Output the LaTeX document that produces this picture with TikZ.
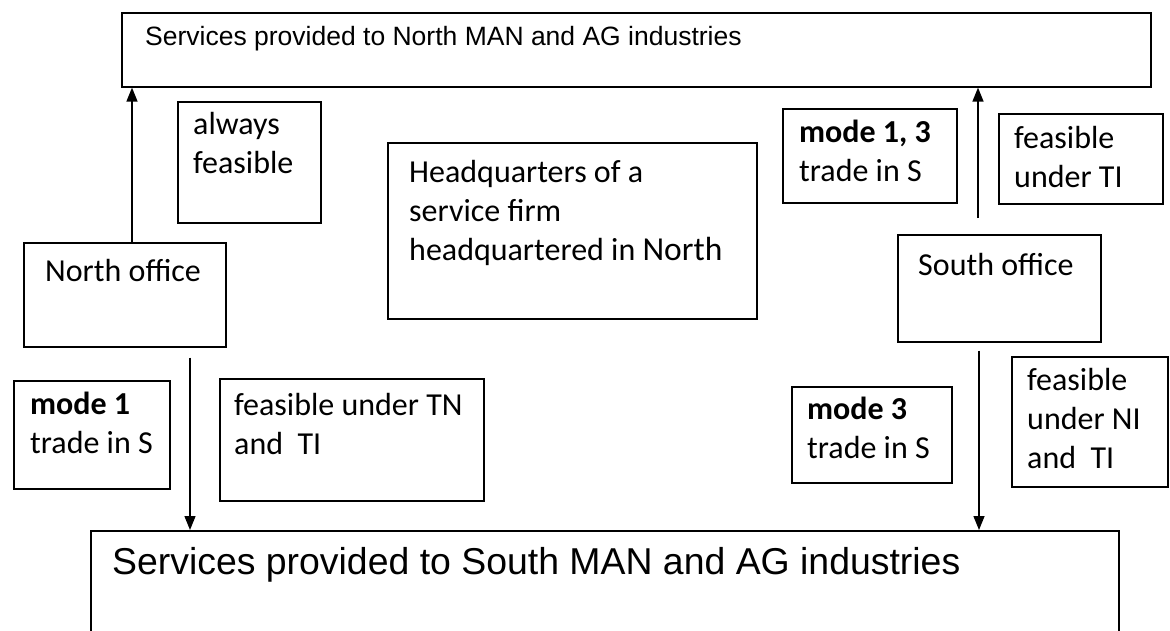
\documentclass[tikz,border=0pt]{standalone}
\usepackage{fontspec}
\usetikzlibrary{arrows.meta}
\newfontfamily\calfont{Carlito}
\newfontfamily\arialfont{Liberation Sans}
\begin{document}
\begin{tikzpicture}[x=1pt,y=-1pt,
  box/.style={draw, line width=1.6pt, inner sep=0pt, anchor=north west},
  cal/.style={font=\calfont\fontsize{32}{39}\selectfont, inner sep=0pt, anchor=base west},
  arr/.style={line width=1.4pt, -{Triangle[width=11pt,length=14pt]}}]
\useasboundingbox (0,0) rectangle (1170,630);

% market boxes
\node[box, minimum width=1029pt, minimum height=74pt] (nbox) at (121,12) {};
\node[box, minimum width=1028pt, minimum height=140pt] (sbox) at (90,530) {};
\node[anchor=base west, inner sep=0pt, font=\arialfont\fontsize{26.5}{32}\selectfont]
  (nboxT) at ([xshift=24pt,yshift=-33pt]nbox.north west)
  {Services provided to North MAN and AG industries};
\node[anchor=base west, inner sep=0pt, font=\arialfont\fontsize{37.4}{44}\selectfont]
  (sboxT) at ([xshift=22pt,yshift=-44pt]sbox.north west)
  {Services provided to South MAN and AG industries};

% offices and headquarters
\node[box, minimum width=202pt, minimum height=104pt] (noff) at (23,242) {};
\node[cal] (noffT) at ([xshift=22pt,yshift=-39pt]noff.north west) {North office};
\node[box, minimum width=203pt, minimum height=107pt] (soff) at (897,234) {};
\node[cal] (soffT) at ([xshift=21pt,yshift=-41pt]soff.north west) {South office};
\node[box, minimum width=369pt, minimum height=176pt] (hq) at (387,142) {};
\node[cal] (hqT) at ([xshift=22pt,yshift=-40pt]hq.north west)
  {\vtop{\hbox{Headquarters of a}\hbox{service firm}%
   \hbox{headquartered in {\fontsize{33.5}{39}\selectfont North}}}};

% labels of the upward links
\node[box, minimum width=143pt, minimum height=121pt] (alw) at (177,101) {};
\node[cal] (alwT) at ([xshift=16pt,yshift=-33pt]alw.north west)
  {\vtop{\hbox{always}\hbox{feasible}}};
\node[box, minimum width=174pt, minimum height=94pt] (m13) at (782,108) {};
\node[cal] (m13T) at ([xshift=17pt,yshift=-34pt]m13.north west)
  {\vtop{\hbox{\textbf{mode 1, 3}}\hbox{trade in S}}};
\node[box, minimum width=164pt, minimum height=90pt] (fti) at (998,113) {};
\node[cal] (ftiT) at ([xshift=16pt,yshift=-35pt]fti.north west)
  {\vtop{\hbox{feasible}\hbox{under TI}}};

% labels of the downward links
\node[box, minimum width=156pt, minimum height=108pt] (m1) at (13,380) {};
\node[cal] (m1T) at ([xshift=17pt,yshift=-34pt]m1.north west)
  {\vtop{\hbox{\textbf{mode 1}}\hbox{trade in S}}};
\node[box, minimum width=264pt, minimum height=122pt] (ftn) at (219,378) {};
\node[cal] (ftnT) at ([xshift=15pt,yshift=-37pt]ftn.north west)
  {\vtop{\hbox{feasible under TN}\hbox{and\ \ TI}}};
\node[box, minimum width=160pt, minimum height=96pt] (m3) at (791,386) {};
\node[cal] (m3T) at ([xshift=16pt,yshift=-33pt]m3.north west)
  {\vtop{\hbox{\textbf{mode 3}}\hbox{trade in S}}};
\node[box, minimum width=156pt, minimum height=130pt] (fni) at (1011,356) {};
\node[cal] (fniT) at ([xshift=16pt,yshift=-34pt]fni.north west)
  {\vtop{\hbox{feasible}\hbox{under NI}\hbox{and\ \ TI}}};

% links
\coordinate (nu) at ([xshift=109pt]noff.north west);
\draw[arr] (nu) -- (nu |- nbox.south);
\coordinate (nd) at ([xshift=167pt,yshift=-10pt]noff.south west);
\draw[arr] (nd) -- (nd |- sbox.north);
\coordinate (su) at ([xshift=81pt,yshift=16pt]soff.north west);
\draw[arr] (su) -- (su |- nbox.south);
\coordinate (sd) at ([xshift=82pt,yshift=-8pt]soff.south west);
\draw[arr] (sd) -- (sd |- sbox.north);
\end{tikzpicture}
\end{document}
